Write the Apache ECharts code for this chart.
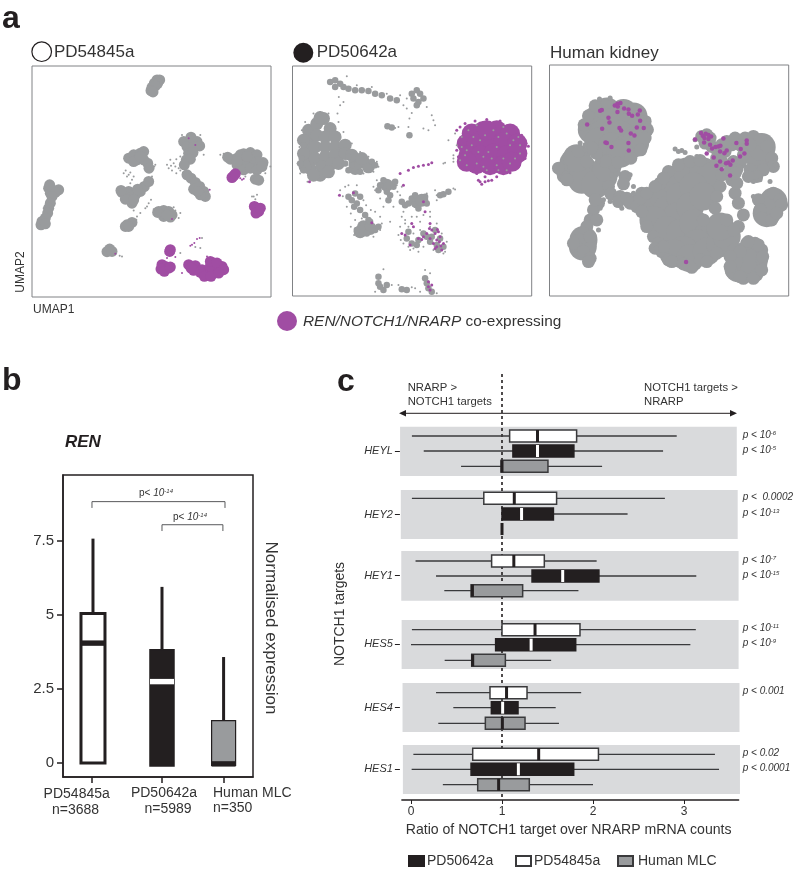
<!DOCTYPE html>
<html><head><meta charset="utf-8">
<style>html,body{margin:0;padding:0;background:#fff}#c{width:800px;height:870px}</style>
<script src="https://cdn.jsdelivr.net/npm/echarts@6/dist/echarts.min.js"></script>
</head><body><div id="c"></div>
<script>
// ---------- Panel a: UMAP read-offs (arbitrary UMAP units, y downwards) ----------
const p1GreyM=[[470,240],[478,240],[462,250],[472,250],[455,262],[465,258],[452,272],[458,276],
[570,420],[550,425],[590,425],[560,440],[580,440],[598,438],[565,460],[578,458],[558,480],[570,478],[552,495],[572,412],
[560,525],[572,535],[585,548],[580,568],[598,560],[610,575],[615,590],[600,585],[592,575],
[385,475],[400,465],[420,460],[430,455],[410,480],[430,480],[442,490],[400,485],[446,505],[420,470],
[365,578],[385,575],[385,595],[405,585],[420,575],[432,560],[445,545],[395,610],[375,598],[412,568],[400,600],[362,572],
[380,675],[395,668],[375,680],[385,680],
[475,635],[490,632],[505,635],[515,645],[490,650],[510,652],[472,638],[500,645],
[145,565],[160,572],[175,570],[150,580],[165,578],[155,590],[148,555],
[150,610],[145,625],[142,640],[135,655],[125,665],[122,675],[135,672],
[328,748],[320,756],[335,755],
[690,478],[710,475],[730,462],[750,458],[770,465],[788,488],[770,485],[750,480],[730,485],[710,495],[730,510],[750,505],[770,510],[785,500],[765,538],[775,541],[720,465],[682,472],[740,470],[710,485]];
const p1GreyS=[[443,262],[485,235],[510,480],[520,490],[505,505],[515,512],[528,520],[540,512],[528,478],[540,470],[610,440],[545,405],[600,405],
[610,465],[370,520],[385,525],[395,540],[380,530],[462,500],[455,530],[440,620],[400,632],[410,650],[460,628],[535,655],[358,768],[345,762],[365,770],
[660,465],[670,462],[800,495],[760,590],[770,585],[540,640],[520,622],[408,660],[370,690],[110,680],[185,565],[130,625],
[500,495],[512,498],[525,500],[535,505],[548,518],[556,512],[376,512],[390,518],[400,530],[390,550],[450,515],[465,495],[452,600],[445,610],[420,640],[435,625],[528,648],[525,632],[795,520],[810,500],[735,530],[755,590],[765,598],[770,610],[585,742],[605,715],[600,745],[540,760]];
const p1PurpleM=[[508,755],[510,750],[485,795],[495,800],[505,805],[482,808],[492,815],[510,802],[565,795],[585,798],[605,810],[632,815],[650,800],[665,800],[640,790],[630,800],[600,818],[580,812],[630,785],[650,790],[612,830],[632,830],[670,810],[655,820],[572,805],
[700,528],[695,533],[705,522],[770,625],[762,620],[775,635],[767,640],[780,625]];
const p1PurpleS=[[720,535],[730,537],[725,540],[575,735],[582,730],[590,718],[598,715],[570,738],[525,772],[520,810],[545,820],[500,775],[565,415],[585,435],[515,658],[628,570],[345,762],[620,770]];

const p2GreyL=[[85,300],[110,280],[130,265],[150,295],[85,330],[110,315],[135,320],[165,320],[80,360],[105,350],[135,350],[165,350],[195,345],[80,390],[105,385],[135,380],[165,375],[195,370],[90,415],[125,410],[155,400],[225,395],[250,395],[265,410],[225,415],
[70,370],[70,330],[75,410],[120,435],[145,425],[175,400],[215,375],[245,385],[100,435],[120,262],
[320,465],[410,515],[425,510],[250,590],[270,595],[240,605]];
const p2GreyM=[[150,155],[165,150],[180,160],[165,170],[190,170],[205,175],[225,180],[245,180],[265,182],[285,190],[305,195],[330,205],[350,210],[395,190],[410,180],[420,190],[400,205],[415,215],[430,205],[410,225],
[322,288],[335,292],[388,315],
[195,400],[215,405],[205,420],[240,425],[205,380],[70,345],[65,385],[70,420],[60,400],[275,395],[285,405],
[300,465],[340,470],[310,450],[320,485],[330,495],[325,510],[295,480],[345,455],
[225,490],[240,500],[215,510],[230,520],[240,540],[255,555],[265,570],[230,600],[285,600],[260,610],[270,575],[205,500],[222,530],[295,590],
[385,520],[395,505],[440,520],[415,535],[375,525],[490,492],[505,485],[480,495],[405,495],[435,500],[365,515],
[380,625],[395,640],[415,630],[440,620],[465,600],[480,625],[470,645],[450,635],[490,650],[430,610],[410,645],[455,620],[475,660],[385,605],
[300,770],[320,765],[295,740],[310,780],[440,760],[445,775],[435,745],[455,785],[380,780],[365,778],[295,760]];
const p2GreyS=[[176,200],[180,225],[172,250],[190,215],[370,225],[388,265],[385,290],[445,300],[460,270],[465,285],[430,295],[345,293],[355,290],[395,248],[380,235],
[58,350],[52,400],[82,455],[60,430],[65,300],[75,275],[100,250],[120,245],[145,250],[175,275],[190,305],[215,340],[240,365],[265,380],[290,395],[295,410],[280,425],[250,430],
[490,400],[495,398],[520,385],[505,330],[525,310],[520,375],[520,395],[290,450],[285,480],[310,530],[350,465],[365,470],
[195,470],[205,465],[230,465],[250,510],[285,545],[300,560],[330,575],[225,570],[365,510],[370,545],[365,560],[440,490],[450,545],[450,560],[470,510],[520,475],[360,590],[375,580],[395,580],[420,575],[370,640],[385,650],[400,655],[490,670],[310,718],[335,765],[285,785],[420,785],[435,720],[450,730],[355,765],[395,772],[405,775],[470,790],
[258,525],[272,540],[245,565],[212,590],[300,600],[305,580],[280,620],[222,615],[180,480],[188,498],[200,530],[212,550],[340,530],[352,485],[360,495],[300,505],[280,470],[430,555],[410,560],[395,560],[375,570],[385,590],[355,615],[362,630],[400,610],[420,600],[450,590],[470,580],[485,610],[500,635],[495,665],[460,660],[430,650],[415,665],[390,660],[465,480],[470,495],[525,478],[200,138],[230,165],[275,170],[320,190],[360,195],[380,205],[440,230],[455,255],
[545,320],[565,300],[560,360],[590,400],[610,380],[650,350],[690,400],[700,330],[640,300],[600,330],[540,390],[575,345],[620,420],[670,290],[720,370],[655,420],[590,285],[690,345],[625,365],[560,405],[715,320],[530,345],
[580,320],[615,315],[655,320],[680,310],[720,345],[705,385],[670,385],[635,385],[595,365],[555,375],[545,350],[610,410],[650,405],[680,420]];
const p2PurpleXL=[[575,310],[610,302],[650,300],[690,310],[560,340],[590,340],[630,335],[670,335],[712,340],[565,375],[600,375],[640,370],[680,375],[712,370],[590,402],[630,405],[670,405],[695,395],[620,300],[560,395]];
const p2PurpleS=[[530,300],[540,290],[555,280],[585,272],[620,268],[660,272],[700,290],[725,315],[738,340],[745,348],[735,385],[715,410],[690,428],[650,440],[615,440],[590,430],[600,455],[615,455],[605,462],[625,452],[635,450],[595,450],[530,360],[535,380],
[445,403],[430,405],[415,408],[400,412],[385,420],[360,430],[455,398],[178,495],[220,488],[88,455],[370,465],[430,515],[435,545],[395,580],[400,590],[450,580],[275,578],
[365,610],[375,615],[390,645],[440,610],[415,625],[430,620],[455,600],[465,610],[475,605],[480,620],[460,640],[470,650],[485,660],[490,640],[470,630],[445,755],[450,780],[445,770],[455,765],[425,628],[450,625],[478,635],[465,655],[482,648],[448,595],[472,598]];

const p3GreyXL=[[200,245],[250,250],[280,260],[170,270],[220,275],[270,290],[295,300],[155,300],[190,310],[240,315],[285,330],[175,335],[215,350],[260,355],[285,340],[205,375],[240,372],
[100,400],[90,425],[130,420],[160,440],[190,440],[125,450],[165,465],[110,385],[200,415],
[130,630],[128,650],
[340,530],[370,500],[400,450],[440,425],[490,425],[510,440],[380,540],[420,500],[460,470],[410,560],[450,530],[490,500],[340,570],[380,600],[420,610],[460,580],[500,620],[470,640],[430,660],[400,670],[450,685],[500,665],[540,640],[560,620],[540,590],
[610,680],[640,670],[620,710],[595,715],[640,700],
[640,365],[665,385],[665,352],[690,530],[680,550],[700,515]];
const p3GreyM=[[62,415],[70,440],[80,450],[115,365],[140,395],[225,410],[255,440],[205,470],[250,462],[212,492],[240,500],[235,515],[260,505],[280,515],[295,510],[270,520],[305,490],
[175,520],[160,540],[150,570],[140,590],[130,610],[120,630],[108,650],[130,665],[150,685],[100,640],[150,620],[170,570],[145,695],[165,510],
[290,530],[305,545],[320,590],[340,620],[355,640],[345,655],[365,665],[385,690],[420,695],[455,712],[480,690],[360,460],[385,425],[415,405],[450,395],[480,392],[530,400],[545,435],[540,470],
[530,500],[585,490],[595,520],[610,555],[595,590],[580,600],[560,570],[490,570],[525,535],
[580,660],[590,695],[575,725],[610,745],[650,735],[665,690],[665,660],[645,640],[620,640],[600,665],
[485,320],[500,315],[510,325],[495,340],[515,350],[530,360],[545,345],[555,365],[575,345],[560,335],[585,325],[600,345],[615,325],[640,320],[660,330],[680,350],[695,385],[700,410],[630,345],[610,375],[580,395],[600,400],[570,420],[590,420],[575,450],[590,460],[585,430],[545,395],[530,385],
[670,420],[630,420],[650,440],[700,490],[720,510],[725,525],[655,510],[660,540],[665,565],[695,570],[710,550],[625,440],
[132,285],[145,258],[165,228],[315,275],[322,300],[315,325],[302,360],[272,385],[232,398],[195,395],[168,370],[155,355],[55,415],[300,505],[320,490],[345,470],[370,445],[370,650],[395,695],[430,702],[500,695],[530,670],[570,680],[570,710],[600,740],[640,745],[665,720],[668,680],[655,645],[625,635]];
const p3GreyS=[[325,268],[300,240],[178,208],[210,205],[120,340],[135,345],[135,360],[175,395],[405,358],[425,362],[415,365],[435,368],[215,435],[235,430],[270,435],[280,470],[245,535],[210,515],[190,510],[180,535],[175,600],[348,655],[640,455],[660,450],[690,455],[640,500],[705,405],[470,380],[465,330],[470,352],[280,490],[125,285]];
const p3Purple=[[141,284],[180,243],[185,241],[224,227],[232,222],[241,220],[233,230],[252,236],[265,239],[266,252],[276,258],[293,254],[299,242],[232,247],[205,264],[208,278],[186,297],[238,295],[243,302],[290,293],[300,273],[311,295],[272,311],[283,317],[196,338],[200,340],[214,352],[265,340],[266,362],
[465,329],[483,310],[488,318],[497,312],[505,316],[513,320],[493,325],[505,328],[492,338],[510,345],[516,356],[526,352],[535,350],[541,348],[550,326],[540,365],[553,370],[560,362],[500,371],[521,383],[540,395],[529,408],[545,418],[558,400],[565,398],[578,392],[570,437],[571,405],[589,340],[602,358],[600,380],[613,371],[620,332],[620,342],[438,696]];
// ---------- Panel b ----------
const bGroups=['PD54845a','PD50642a','Human MLC'];
const bCounts=['n=3688','n=5989','n=350'];
const bLow=[0,-0.1,-0.08], bQ3=[5.05,3.83,1.43], bMedian=[4.05,2.75,-0.03], bHigh=[7.58,5.95,3.58];
const bTicks=[0,2.5,5,7.5];
const bPos=[0,1,1.88];
// ---------- Panel c (low, q1, median, q3, high) ----------
const cGenes=['HEYL','HEY2','HEY1','HES5','HES4','HES1'];
const cWhite=[[0.01,1.084,1.39,1.82,2.92],[0.01,0.80,1.135,1.60,2.79],[0.05,0.886,1.13,1.465,2.04],[0.01,1.0,1.363,1.857,3.13],[0.275,0.868,1.05,1.275,1.87],[0.026,0.678,1.403,2.06,3.34]];
const cBlack=[[0.14,1.12,1.39,1.79,2.77],[1.0,1.0,1.215,1.565,2.38],[0.275,1.33,1.667,2.065,3.135],[0,0.93,1.32,1.81,3.07],[0.465,0.883,1.007,1.176,1.59],[0.007,0.66,1.18,1.788,3.385]];
const cGrey=[[0.55,0.99,1.0,1.505,2.10],[1.0,1.0,1.0,1.0,1.0],[0.366,0.66,0.675,1.227,1.84],[0.37,0.667,0.678,1.037,1.54],[0.30,0.817,1.004,1.253,1.626],[0.35,0.733,0.963,1.30,2.0]];
const cPvals=[[['p < ','10','-6'],['p < ','10','-5']],[['p <  ','0.0002',''],['p < ','10','-13']],[['p < ','10','-7'],['p < ','10','-15']],[['p < ','10','-11'],['p < ','10','-9']],[['p < ','0.001','']],[['p < ','0.02',''],['p < ','0.0001','']]];
const cXTicks=[0,1,2,3];

// ---------- layout ----------
const GREY='#999b9d',PURPLE='#a04da3',DARK='#231f20',TXT='#333333',BAND='#d9dadc';
const FONT='"Liberation Sans",Arial,sans-serif';
const frames=[[32,66,271,297,95,812,198,892],[292.5,66,531.7,296,37,755,107,798],[549.5,65,788.7,296,28,746,106,798]];
const grids=[],xAxes=[],yAxes=[],series=[];
frames.forEach(f=>{
  grids.push({show:true,left:f[0],top:f[1],width:f[2]-f[0],height:f[3]-f[1],borderColor:'#808285',borderWidth:1,backgroundColor:'#fff'});
  xAxes.push({type:'value',gridIndex:grids.length-1,min:f[4],max:f[5],show:false});
  yAxes.push({type:'value',gridIndex:grids.length-1,min:f[6],max:f[7],inverse:true,show:false});
});
function scat(name,g,data,size,color){series.push({name,type:'scatter',xAxisIndex:g,yAxisIndex:g,data,symbolSize:size,itemStyle:{color,opacity:1},silent:true,animation:false,z:2});}
scat('p1a',0,p1GreyM,11,GREY);scat('p1b',0,p1GreyS,2,GREY);scat('p1c',0,p1PurpleM,11,PURPLE);scat('p1d',0,p1PurpleS,2,PURPLE);
scat('p2a',1,p2GreyL,13,GREY);scat('p2b',1,p2GreyM,6.5,GREY);scat('p2e',1,p2PurpleXL,20,PURPLE);scat('p2c',1,p2GreyS,2,GREY);scat('p2d',1,p2PurpleS,3,PURPLE);
scat('p3a',2,p3GreyXL,28,GREY);scat('p3b',2,p3GreyM,13,GREY);scat('p3c',2,p3GreyS,5,GREY);scat('p3d',2,p3Purple,4.5,PURPLE);

// panel b grid = 3
grids.push({show:true,left:63,top:475,width:190,height:302,borderColor:DARK,borderWidth:1.5,backgroundColor:'#fff'});
xAxes.push({type:'value',gridIndex:3,min:-0.414,max:2.3,splitLine:{show:false},axisLine:{onZero:false,lineStyle:{color:DARK,width:1.5}},
  axisTick:{show:true,length:6,customValues:bPos,lineStyle:{color:DARK,width:1.5}},axisLabel:{show:false}});
yAxes.push({type:'value',gridIndex:3,min:-0.473,max:9.73,splitLine:{show:false},axisLine:{onZero:false,lineStyle:{color:DARK,width:1.5}},
  axisTick:{show:true,length:6,customValues:bTicks,lineStyle:{color:DARK,width:1.5}},
  axisLabel:{customValues:bTicks,formatter:v=>String(v),fontFamily:FONT,fontSize:15,color:TXT,margin:9}});
const bStyles=[{fill:'#fff',stroke:DARK,sw:3,med:DARK},{fill:DARK,stroke:DARK,sw:1.5,med:'#fff'},{fill:GREY,stroke:DARK,sw:1.2,med:DARK}];
series.push({name:'bBox',type:'custom',xAxisIndex:3,yAxisIndex:3,z:3,silent:true,animation:false,clip:false,
  data:bGroups.map((g,i)=>[bPos[i],bLow[i],bMedian[i],bQ3[i],bHigh[i]]),
  renderItem(p,api){
    const i=p.dataIndex,s=bStyles[i],x=api.value(0);
    const P=(a,b)=>api.coord([a,b]);
    const c=P(x,0)[0]+(i===0?1:0),y1=P(x,api.value(1))[1],ym=P(x,api.value(2))[1],y3=P(x,api.value(3))[1],yh=P(x,api.value(4))[1];
    const half=12;
    return {type:'group',children:[
      {type:'line',shape:{x1:c,y1:yh,x2:c,y2:y3},style:{stroke:DARK,lineWidth:3}},
      {type:'rect',shape:{x:c-half,y:y3,width:half*2,height:y1-y3},style:{fill:s.fill,stroke:s.stroke,lineWidth:s.sw}},
      {type:'rect',shape:{x:c-half,y:ym-2.7,width:half*2,height:5.4},style:{fill:s.med}}
    ]};
  }});
const bBrackets=[[0,1.9,8.83],[1,1.87,8.05]];
series.push({name:'bBr',type:'custom',xAxisIndex:3,yAxisIndex:3,z:3,silent:true,animation:false,data:bBrackets,
  renderItem(p,api){
    const a=api.coord([api.value(0),api.value(2)]),b=api.coord([api.value(1),api.value(2)]);
    return {type:'polyline',shape:{points:[[a[0],a[1]+6.3],a,b,[b[0],b[1]+6.3]]},style:{fill:'none',stroke:'#58595b',lineWidth:1}};
  }});

// panel c grid = 4
grids.push({left:401.9,top:374,width:336.7,height:426});
const cBandTop=[426.7,490,551,620,683,745],cBandBot=[476,539,600.7,669,732,794];
const cBandL=[-0.12,-0.112,-0.107,-0.103,-0.093,-0.089],cBandR=[3.58,3.59,3.60,3.60,3.61,3.615];
const cTickY=[451,514.7,575.7,644.3,707.7,769];
const cRowY=[[436,451,466.3],[498.3,514,529],[561,576,590.7],[629.7,644.7,660.3],[692.7,707.7,723.3],[754.3,769.3,784.7]];
xAxes.push({type:'value',gridIndex:4,min:-0.1,max:3.6,splitLine:{show:false},
  axisLine:{onZero:false,lineStyle:{color:DARK,width:1.5}},
  axisTick:{length:4,customValues:cXTicks,lineStyle:{color:DARK,width:1}},
  axisLabel:{customValues:cXTicks,formatter:v=>String(v),fontFamily:FONT,fontSize:12,color:TXT,margin:6}});
yAxes.push({type:'value',gridIndex:4,min:374,max:800,inverse:true,offset:2,splitLine:{show:false},axisLine:{show:false,onZero:false},
  axisTick:{length:5,customValues:cTickY,lineStyle:{color:DARK,width:1}},
  axisLabel:{customValues:cTickY,formatter:v=>cGenes[cTickY.indexOf(v)],fontFamily:FONT,fontStyle:'italic',fontSize:11,color:TXT,margin:7}});
series.push({name:'bands',type:'custom',xAxisIndex:4,yAxisIndex:4,z:1,silent:true,animation:false,clip:false,
  data:cGenes.map((g,i)=>[cBandL[i],cBandR[i],cBandTop[i],cBandBot[i]]),
  renderItem(p,api){const a=api.coord([api.value(0),api.value(2)]),b=api.coord([api.value(1),api.value(3)]);
    return {type:'rect',shape:{x:a[0],y:a[1],width:b[0]-a[0],height:b[1]-a[1]},style:{fill:BAND}};}});
series.push({name:'ref',type:'line',xAxisIndex:4,yAxisIndex:4,z:2,silent:true,animation:false,symbol:'none',
  data:[[1,374],[1,800]],lineStyle:{color:DARK,width:1.6,type:[3,3]}});
function boxSeries(name,vals,row,fill,stroke,med){
  series.push({name,type:'custom',xAxisIndex:4,yAxisIndex:4,z:3,silent:true,animation:false,clip:false,
    itemStyle:{color:fill,borderColor:stroke,borderWidth:1},
    data:vals.map((v,i)=>[...v,cRowY[i][row]]),
    renderItem(p,api){
      const y=api.value(5),X=k=>api.coord([api.value(k),y])[0],cy=api.coord([0,y])[1],h=6;
      return {type:'group',children:[
        {type:'line',shape:{x1:X(0),y1:cy,x2:X(4),y2:cy},style:{stroke:'#3a3a3c',lineWidth:1.3}},
        {type:'rect',shape:{x:X(1),y:cy-h,width:X(3)-X(1),height:2*h},style:{fill,stroke,lineWidth:1.5}},
        {type:'rect',shape:{x:X(2)-1.5,y:cy-h,width:3,height:2*h},style:{fill:med}}
      ]};
    }});
}
boxSeries('PD54845a',cWhite,0,'#ffffff','#3a3a3c',DARK);
boxSeries('PD50642a',cBlack,1,DARK,DARK,'#ffffff');
boxSeries('Human MLC',cGrey,2,GREY,'#3a3a3c',DARK);

// ---------- text & decorations ----------
const gfx=[];
// y = baseline for horizontal text; for rotated text x,y = centre of the text
const T=(text,x,y,o={})=>{const s=o.size||12;gfx.push({type:'text',x,y:(o.rot||o.mid)?y:y-0.35*s,rotation:o.rot||0,silent:true,z:20,style:Object.assign({text,fontFamily:FONT,fontSize:s,fontWeight:o.weight||'normal',fontStyle:o.italic?'italic':'normal',fill:o.color||TXT,align:o.align||'left',verticalAlign:'middle'},o.rich?{rich:o.rich}:{})});};
T('a',2,30,{size:32,weight:'bold',color:DARK});T('b',2,392,{size:32,weight:'bold',color:DARK});T('c',337,393,{size:32,weight:'bold',color:DARK});
gfx.push({type:'circle',shape:{cx:41.7,cy:51.7,r:9.8},silent:true,style:{fill:'#fff',stroke:DARK,lineWidth:1.2}});
gfx.push({type:'circle',shape:{cx:303.3,cy:52.7,r:10},silent:true,style:{fill:DARK}});
T('PD54845a',54,58,{size:17});T('PD50642a',316.7,58,{size:17});T('Human kidney',550,59,{size:17});
T('UMAP1',33,314,{size:12});T('UMAP2',21,272,{size:12,rot:Math.PI/2,align:'center'});
gfx.push({type:'circle',shape:{cx:287,cy:321,r:10},silent:true,style:{fill:PURPLE}});
T('{i|REN/NOTCH1/NRARP}{n| co-expressing}',303,327,{size:15,rich:{i:{fontStyle:'italic',fontFamily:FONT,fontSize:15.4,fill:TXT},n:{fontFamily:FONT,fontSize:15.4,fill:TXT}}});
T('REN',65,448,{size:17,weight:'bold',italic:true,color:DARK});
T('Normalised expression',271,628,{size:17,rot:-Math.PI/2,align:'center'});
const bLabelX=[[76.7,'center'],[164,'center'],[213,'left']],bCountX=[[75.5,'center'],[168,'center'],[213,'left']];
bGroups.forEach((g,i)=>{T(g,bLabelX[i][0],799-(i?1:0),{size:14,align:bLabelX[i][1]});T(bCounts[i],bCountX[i][0],815-i,{size:14,align:bCountX[i][1]});});
const pRich={i:{fontStyle:'italic',fontFamily:FONT,fontSize:10,fill:TXT},s:{fontStyle:'italic',fontFamily:FONT,fontSize:6,fill:TXT,verticalAlign:'top'}};
const bRich={n:{fontFamily:FONT,fontSize:10,fill:TXT},i:{fontStyle:'italic',fontFamily:FONT,fontSize:10,fill:TXT},s:{fontStyle:'italic',fontFamily:FONT,fontSize:6,fill:TXT,verticalAlign:'top'}};
T('{n|p< }{i|10}{s|-14}',139,493,{rich:bRich,mid:true});T('{n|p< }{i|10}{s|-14}',173,517,{rich:bRich,mid:true});
const arrowText={size:11.3};
T('NRARP >',407.7,391.7,arrowText);T('NOTCH1 targets',407.7,406,arrowText);T('NOTCH1 targets >',644,391.7,arrowText);T('NRARP',644,406,arrowText);
gfx.push({type:'line',shape:{x1:402,y1:413.3,x2:734,y2:413.3},silent:true,z:5,style:{stroke:DARK,lineWidth:1}});
gfx.push({type:'polygon',shape:{points:[[399,413.3],[406,410],[406,416.6]]},silent:true,z:5,style:{fill:DARK}});
gfx.push({type:'polygon',shape:{points:[[737,413.3],[730,410],[730,416.6]]},silent:true,z:5,style:{fill:DARK}});
cPvals.forEach((rows,i)=>rows.forEach((r,k)=>{
  T('{i|'+r[0]+r[1]+'}'+(r[2]?'{s|'+r[2]+'}':''),742.7,cRowY[i][k]-1,{rich:pRich,mid:true});
}));
T('NOTCH1 targets',340.5,614,{size:14,rot:Math.PI/2,align:'center'});
T('Ratio of NOTCH1 target over NRARP mRNA counts',405.7,835,{size:14.1});

const legendBase=(name,left,pad)=>({data:[name],left,top:849,itemWidth:15,itemHeight:10,icon:'rect',selectedMode:false,
  textStyle:{fontFamily:FONT,fontSize:14,color:TXT,padding:[0,0,0,pad]}});
const option={animation:false,backgroundColor:'#fff',grid:grids,xAxis:xAxes,yAxis:yAxes,series,graphic:{elements:gfx},
  legend:[legendBase('PD50642a',403,-2),legendBase('PD54845a',510,-2),legendBase('Human MLC',612,0)]};
const chart=echarts.init(document.getElementById('c'),null,{renderer:'canvas'});
chart.setOption(option);
</script></body></html>
